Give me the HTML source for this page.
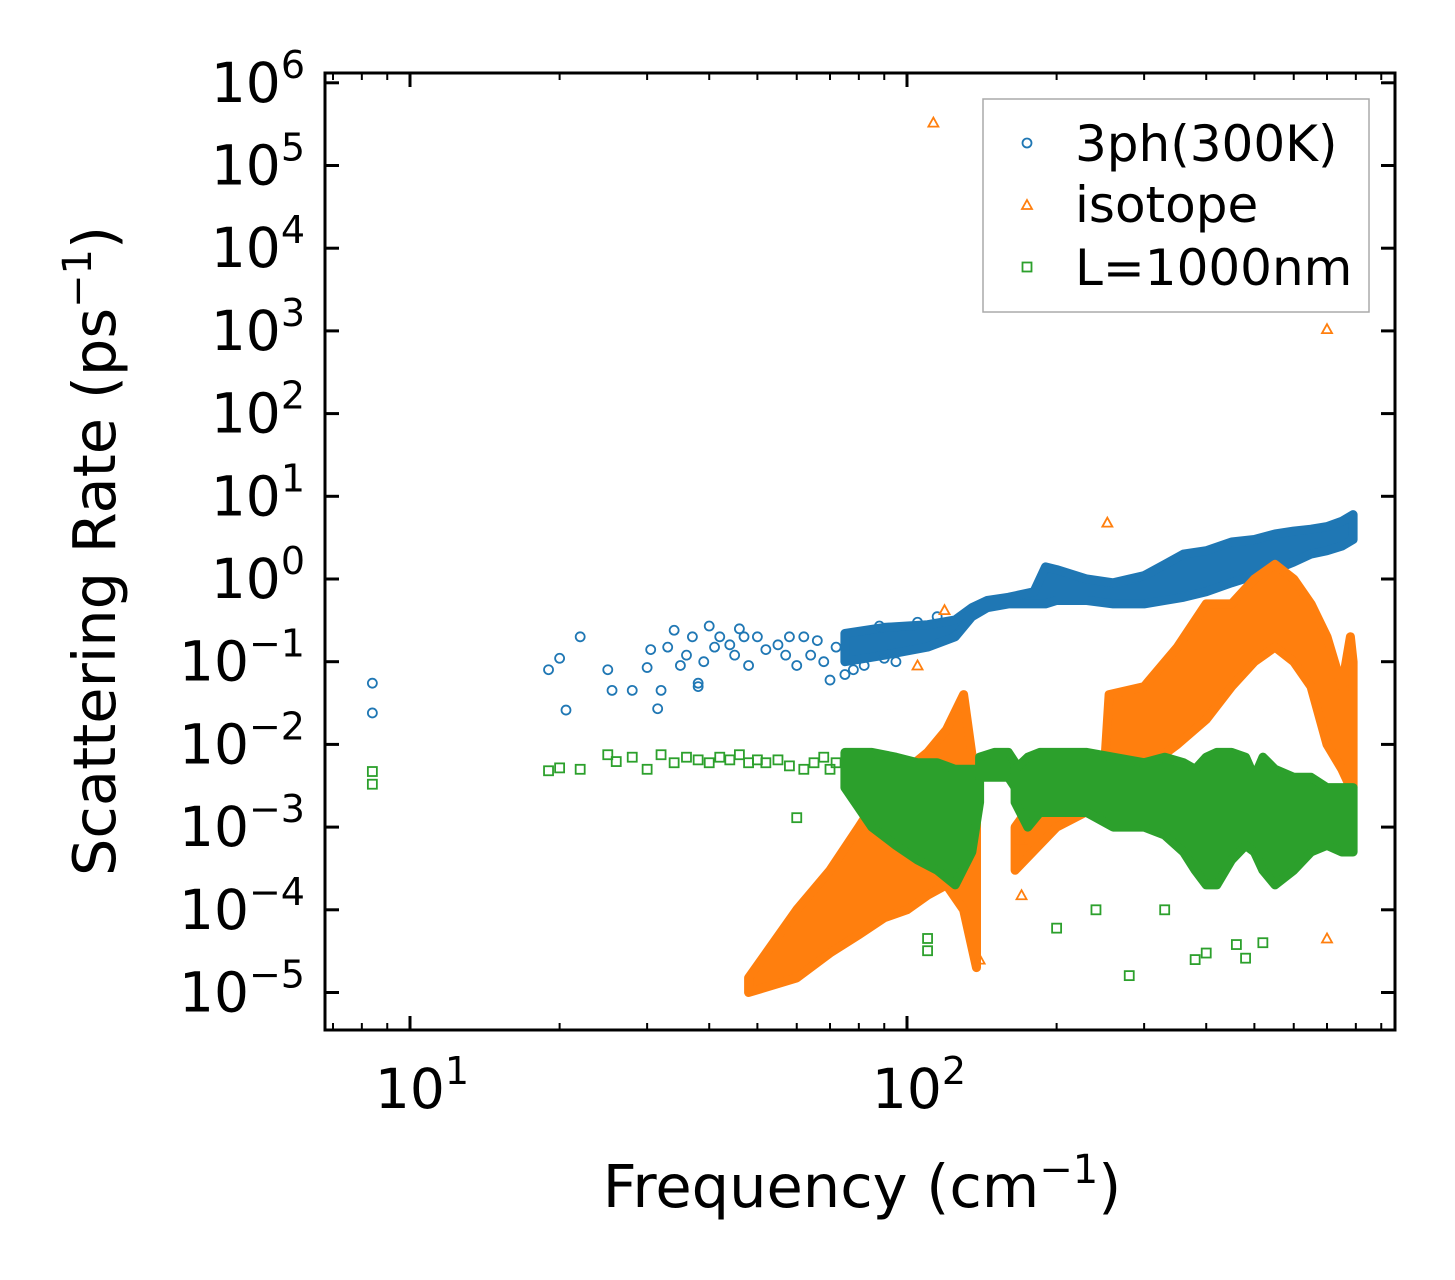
<!DOCTYPE html>
<html><head><meta charset="utf-8"><style>
html,body{margin:0;padding:0;background:#fff;}
svg{display:block;font-family:"DejaVu Sans","Liberation Sans",sans-serif;}
</style></head><body>
<svg id="chart" width="1455" height="1280" viewBox="0 0 1455 1280" xmlns="http://www.w3.org/2000/svg">
<g id="marks"></g>
<g id="axes"></g>
<text x="862" y="1207" font-size="59" text-anchor="middle">Frequency (cm<tspan dy="-24" font-size="40">−1</tspan><tspan dy="24">)</tspan></text>
<text transform="translate(115,551) rotate(-90)" font-size="59" text-anchor="middle">Scattering Rate (ps<tspan dy="-24" font-size="40">−1</tspan><tspan dy="24">)</tspan></text>
<g>
<rect x="983" y="99" width="386" height="213" fill="#fff" stroke="#aaa" stroke-width="1.5"/>
<g><circle cx="1027" cy="143" r="4.5" fill="none" stroke="#1f77b4" stroke-width="1.8"/><text x="1075" y="161" font-size="50">3ph(300K)</text></g>
<g><path d="M1027,200 L1032,209 L1022,209 Z" fill="none" stroke="#ff7f0e" stroke-width="1.8"/><text x="1075" y="222" font-size="50">isotope</text></g>
<g><rect x="1022.5" y="262.5" width="9" height="9" fill="none" stroke="#2ca02c" stroke-width="1.8"/><text x="1075" y="285" font-size="50">L=1000nm</text></g>
</g>
</svg>
<script>
// ---- data ----
const blueX=[8.4,8.4,19,20,20.6,22,25,25.5,28,30,30.5,31.5,32,33,34,35,36,37,38,38,39,40,41,42,44,45,46,47,48,50,52,55,57,58,60,62,64,66,68,70,72,78,82,88,95,105,115,75,90];
const blueY=[0.055,0.024,0.08,0.11,0.026,0.2,0.08,0.045,0.045,0.085,0.14,0.027,0.045,0.15,0.24,0.09,0.12,0.2,0.05,0.055,0.1,0.27,0.15,0.2,0.16,0.12,0.25,0.2,0.09,0.2,0.14,0.16,0.12,0.2,0.09,0.2,0.12,0.18,0.1,0.06,0.15,0.08,0.09,0.27,0.1,0.3,0.35,0.07,0.11];
const blueBandX=[75,90,110,125,135,145,160,180,190,200,230,260,300,330,360,400,450,500,550,600,650,700,750,790];
const blueBandLow=[0.1,0.12,0.15,0.2,0.35,0.45,0.5,0.5,0.5,0.55,0.55,0.5,0.5,0.55,0.6,0.7,0.9,1.1,1.3,1.6,2.0,2.2,2.5,3];
const blueBandHigh=[0.22,0.26,0.28,0.32,0.45,0.55,0.6,0.7,1.4,1.3,1.0,0.9,1.1,1.5,2.0,2.2,2.8,3.0,3.5,3.8,4.0,4.3,5,6];

const orangeX=[113,700,253,700,170,170,119,105,128,140];
const orangeY=[3.3e5,1050,4.8,4.5e-5,1.5e-4,7e-4,0.42,0.09,0.0045,2.5e-5];
const orangeBand1X=[48,60,70,80,90,100,110,120,130,138];
const orangeBand1Low=[1e-5,1.5e-5,3e-5,5e-5,8e-5,1e-4,1.5e-4,2e-4,1e-4,2e-5];
const orangeBand1High=[1.5e-5,1e-4,3e-4,1e-3,3e-3,5e-3,8e-3,0.015,0.04,0.003];
const orangeBand2X=[165,200,250,255,300,350,400,450,500,550,600,650,700,750,780,790];
const orangeBand2Low=[3e-4,1e-3,2e-3,3e-3,5e-3,0.01,0.02,0.05,0.1,0.15,0.1,0.05,0.01,0.005,0.003,0.003];
const orangeBand2High=[1e-3,5e-3,6e-3,0.04,0.05,0.15,0.5,0.5,1,1.5,1,0.5,0.2,0.05,0.2,0.1];

const greenX=[8.4,8.4,19,20,22,25,26,28,30,32,34,36,38,40,42,44,46,48,50,52,55,58,60,62,65,68,70,72,110,110,200,280,380,400,460,480,520,240,330];
const greenY=[4.7e-3,3.3e-3,4.8e-3,5.2e-3,5e-3,7.5e-3,6.2e-3,7e-3,5e-3,7.5e-3,6e-3,7e-3,6.5e-3,6e-3,7e-3,6.5e-3,7.5e-3,6e-3,6.5e-3,6e-3,6.5e-3,5.5e-3,1.3e-3,5e-3,6e-3,7e-3,5e-3,6e-3,4.5e-5,3.2e-5,6e-5,1.6e-5,2.5e-5,3e-5,3.8e-5,2.6e-5,4e-5,1e-4,1e-4];
const greenBand1X=[75,85,95,105,115,125,135,140];
const greenBand1Low=[3e-3,1e-3,6e-4,4e-4,3e-4,2e-4,5e-4,2e-3];
const greenBand1High=[8e-3,8e-3,7e-3,6e-3,6e-3,5e-3,5e-3,5e-3];
const greenBand2X=[140,150,160,165];
const greenBand2Low=[4e-3,4e-3,4e-3,3e-3];
const greenBand2High=[7e-3,8e-3,8e-3,6e-3];
const greenBand3X=[165,175,185,200,230,260,300,330,360,380,400,420,450,480,500,520,550,600,650,700,750,790];
const greenBand3Low=[2e-3,1e-3,1.5e-3,1.5e-3,1.5e-3,1e-3,1e-3,8e-4,5e-4,3e-4,2e-4,2e-4,4e-4,6e-4,5e-4,3e-4,2e-4,3e-4,5e-4,6e-4,5e-4,5e-4];
const greenBand3High=[5e-3,7e-3,8e-3,8e-3,8e-3,7e-3,6e-3,7e-3,6e-3,5e-3,7e-3,8e-3,8e-3,7e-3,4e-3,7e-3,5e-3,4e-3,4e-3,3e-3,3e-3,3e-3];

const yTickExps=[-5,-4,-3,-2,-1,0,1,2,3,4,5,6];
const xTickExps=[1,2];

// ---- axes ----
const L=325,R=1395,T=73,B=1030;
const X0=410,XDEC=497,Y0=579,YDEC=82.7;
function sx(v){return X0+(Math.log10(v)-1)*XDEC;}
function sy(v){return Y0-Math.log10(v)*YDEC;}
const NS='http://www.w3.org/2000/svg';
const marks=document.getElementById('marks'),axes=document.getElementById('axes');
function mk(tag,attrs,parent){const e=document.createElementNS(NS,tag);for(const k in attrs)e.setAttribute(k,attrs[k]);parent.appendChild(e);return e;}

function band(xs,lo,hi,color,name){
  let d='M'+xs.map((x,i)=>sx(x).toFixed(1)+','+sy(hi[i]).toFixed(1)).join(' L');
  for(let i=xs.length-1;i>=0;i--)d+=' L'+sx(xs[i]).toFixed(1)+','+sy(lo[i]).toFixed(1);
  const p=mk('path',{d:d+'Z',fill:color,stroke:color,'stroke-width':9,'stroke-linejoin':'round'},marks);
  
  
}
function circ(xs,ys){xs.forEach((x,i)=>{const c=mk('circle',{cx:sx(x),cy:sy(ys[i]),r:4.5,fill:'none',stroke:'#1f77b4','stroke-width':1.8},marks);
  
  });}
function tri(xs,ys){xs.forEach((x,i)=>{const cx=sx(x),cy=sy(ys[i]);const p=mk('path',{d:`M${cx},${cy-5} L${cx+5},${cy+4} L${cx-5},${cy+4} Z`,fill:'none',stroke:'#ff7f0e','stroke-width':1.8},marks);
  
  });}
function sq(xs,ys){xs.forEach((x,i)=>{const r=mk('rect',{x:sx(x)-4.5,y:sy(ys[i])-4.5,width:9,height:9,fill:'none',stroke:'#2ca02c','stroke-width':1.8},marks);
  
  });}

band(blueBandX,blueBandLow,blueBandHigh,'#1f77b4','band-3ph');
circ(blueX,blueY);
band(orangeBand1X,orangeBand1Low,orangeBand1High,'#ff7f0e','band-isotope-low');
band(orangeBand2X,orangeBand2Low,orangeBand2High,'#ff7f0e','band-isotope-high');
tri(orangeX,orangeY);
band(greenBand1X,greenBand1Low,greenBand1High,'#2ca02c','band-boundary-1');
band(greenBand2X,greenBand2Low,greenBand2High,'#2ca02c','band-boundary-2');
band(greenBand3X,greenBand3Low,greenBand3High,'#2ca02c','band-boundary-3');
sq(greenX,greenY);

const frame=mk('rect',{x:L,y:T,width:R-L,height:B-T,fill:'none',stroke:'#000','stroke-width':3},axes);


yTickExps.forEach(e=>{const y=sy(Math.pow(10,e));
  mk('line',{x1:L,x2:L+14,y1:y,y2:y,stroke:'#000','stroke-width':3},axes);
  mk('line',{x1:R,x2:R-14,y1:y,y2:y,stroke:'#000','stroke-width':3},axes);
  const t=mk('text',{x:305,y:y+19,'font-size':55,'text-anchor':'end'},axes);
  
  
  t.innerHTML='10<tspan dy="-24" font-size="38">'+(e<0?'−'+(-e):e)+'</tspan>';
});
xTickExps.forEach(e=>{const x=sx(Math.pow(10,e));
  mk('line',{x1:x,x2:x,y1:B,y2:B-14,stroke:'#000','stroke-width':3},axes);
  mk('line',{x1:x,x2:x,y1:T,y2:T+14,stroke:'#000','stroke-width':3},axes);
  const t=mk('text',{x:x+12,y:1108,'font-size':55,'text-anchor':'middle'},axes);
  
  
  t.innerHTML='10<tspan dy="-24" font-size="38">'+e+'</tspan>';
});
[7,8,9,20,30,40,50,60,70,80,90,200,300,400,500,600,700,800,900].forEach(v=>{const x=sx(v);
  mk('line',{x1:x,x2:x,y1:B,y2:B-7,stroke:'#000','stroke-width':2},axes);
  mk('line',{x1:x,x2:x,y1:T,y2:T+7,stroke:'#000','stroke-width':2},axes);
});
</script>
</body></html>
